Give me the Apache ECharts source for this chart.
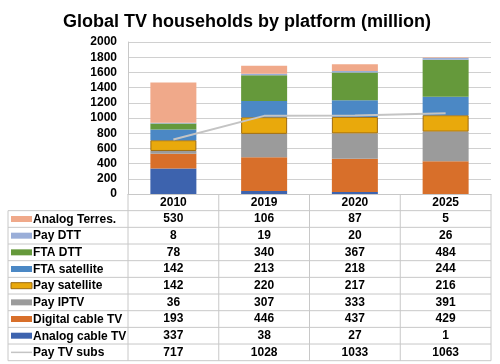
<!DOCTYPE html>
<html>
<head>
<meta charset="utf-8">
<script src="https://cdn.jsdelivr.net/npm/echarts@6/dist/echarts.min.js"></script>
<style>html,body{margin:0;padding:0;background:#fff}#c{width:500px;height:364px}</style>
</head>
<body>
<div id="c"></div>
<script>
const years = ['2010', '2019', '2020', '2025'];
const analogTerres = [530, 106, 87, 5];
const payDTT = [8, 19, 20, 26];
const ftaDTT = [78, 340, 367, 484];
const ftaSatellite = [142, 213, 218, 244];
const paySatellite = [142, 220, 217, 216];
const payIPTV = [36, 307, 333, 391];
const digitalCable = [193, 446, 437, 429];
const analogCable = [337, 38, 27, 1];
const payTVSubs = [717, 1028, 1033, 1063];
const yTicks = [0, 200, 400, 600, 800, 1000, 1200, 1400, 1600, 1800, 2000];

// table rows, top to bottom
const rows = [
  {name: 'Analog Terres.', data: analogTerres, color: '#f0a98a', type: 'bar'},
  {name: 'Pay DTT', data: payDTT, color: '#9aaed8', type: 'bar'},
  {name: 'FTA DTT', data: ftaDTT, color: '#65993b', type: 'bar'},
  {name: 'FTA satellite', data: ftaSatellite, color: '#4b88c5', type: 'bar'},
  {name: 'Pay satellite', data: paySatellite, color: '#e9a90c', type: 'bar', border: '#9e6c10'},
  {name: 'Pay IPTV', data: payIPTV, color: '#9b9b9b', type: 'bar'},
  {name: 'Digital cable TV', data: digitalCable, color: '#d86f2a', type: 'bar'},
  {name: 'Analog cable TV', data: analogCable, color: '#3d63ae', type: 'bar'},
  {name: 'Pay TV subs', data: payTVSubs, color: '#c4c4c4', type: 'line'}
];

const FONT = '"Liberation Sans", Arial, sans-serif';
const gL = 128, gR = 491, gT = 42, gB = 194;
const rowH = 16.67, headH = 16.67;
const tableTop = gB + headH;
const lineCol = '#c8c8c8';

const series = [];
rows.filter(r => r.type === 'bar').slice().reverse().forEach(r => {
  series.push({
    name: r.name, type: 'bar', stack: 'tv', data: r.data, barWidth: 46,
    itemStyle: {color: r.color, borderColor: r.border || r.color, borderWidth: r.border ? 1 : 0},
    emphasis: {disabled: true}
  });
});
const lineRow = rows.find(r => r.type === 'line');
series.push({
  name: lineRow.name, type: 'line', data: lineRow.data, symbol: 'none',
  lineStyle: {color: lineRow.color, width: 2}, z: 5
});

const graphics = [];
const nRows = rows.length;
for (let i = 0; i <= nRows; i++) {
  const y = tableTop + i * rowH;
  graphics.push({type: 'line', shape: {x1: 8, y1: y, x2: gR, y2: y}, style: {stroke: lineCol, lineWidth: 1}, silent: true});
}
graphics.push({type: 'line', shape: {x1: 8, y1: tableTop, x2: 8, y2: tableTop + nRows * rowH}, style: {stroke: lineCol, lineWidth: 1}});
const cw = (gR - gL) / years.length;
for (let k = 0; k <= years.length; k++) {
  const x = gL + k * cw;
  graphics.push({type: 'line', shape: {x1: x, y1: gB, x2: x, y2: tableTop + nRows * rowH}, style: {stroke: lineCol, lineWidth: 1}});
}
rows.forEach((r, i) => {
  const cy = tableTop + i * rowH + rowH / 2;
  if (r.type === 'bar') {
    graphics.push({type: 'rect', shape: {x: 11, y: cy - 3, width: 21, height: 6}, style: {fill: r.color, stroke: r.border || null, lineWidth: r.border ? 1 : 0}});
  } else {
    graphics.push({type: 'line', shape: {x1: 11, y1: cy, x2: 32, y2: cy}, style: {stroke: r.color, lineWidth: 1.5}});
  }
  graphics.push({type: 'text', x: 33, y: cy + 0.5, style: {text: r.name, font: 'bold 12px ' + FONT, fill: '#000', textVerticalAlign: 'middle', textAlign: 'left'}});
});

const chart = echarts.init(document.getElementById('c'), null, {renderer: 'canvas'});
chart.setOption({
  animation: false,
  backgroundColor: '#fff',
  title: {
    text: 'Global TV households by platform (million)', left: 58, top: 8,
    textStyle: {fontFamily: FONT, fontWeight: 'bold', fontSize: 18, color: '#000'}
  },
  grid: {left: gL, right: 500 - gR, top: gT, bottom: 364 - gB},
  xAxis: {
    type: 'category', data: years,
    axisLine: {lineStyle: {color: lineCol}},
    axisTick: {show: false},
    axisLabel: {
      margin: 0, fontFamily: FONT, fontWeight: 'bold', fontSize: 12, color: '#000',
      lineHeight: rowH, interval: 0,
      formatter: (v, idx) => [v].concat(rows.map(r => String(r.data[idx]))).join('\n')
    }
  },
  yAxis: {
    type: 'value', min: yTicks[0], max: yTicks[yTicks.length - 1], interval: yTicks[1] - yTicks[0],
    axisLine: {show: true, lineStyle: {color: lineCol}},
    axisTick: {show: false},
    splitLine: {lineStyle: {color: '#d0d0d0'}},
    axisLabel: {margin: 11, fontFamily: FONT, fontWeight: 'bold', fontSize: 12, color: '#000', formatter: v => String(v)}
  },
  series: series,
  graphic: graphics
});
</script>
</body>
</html>
